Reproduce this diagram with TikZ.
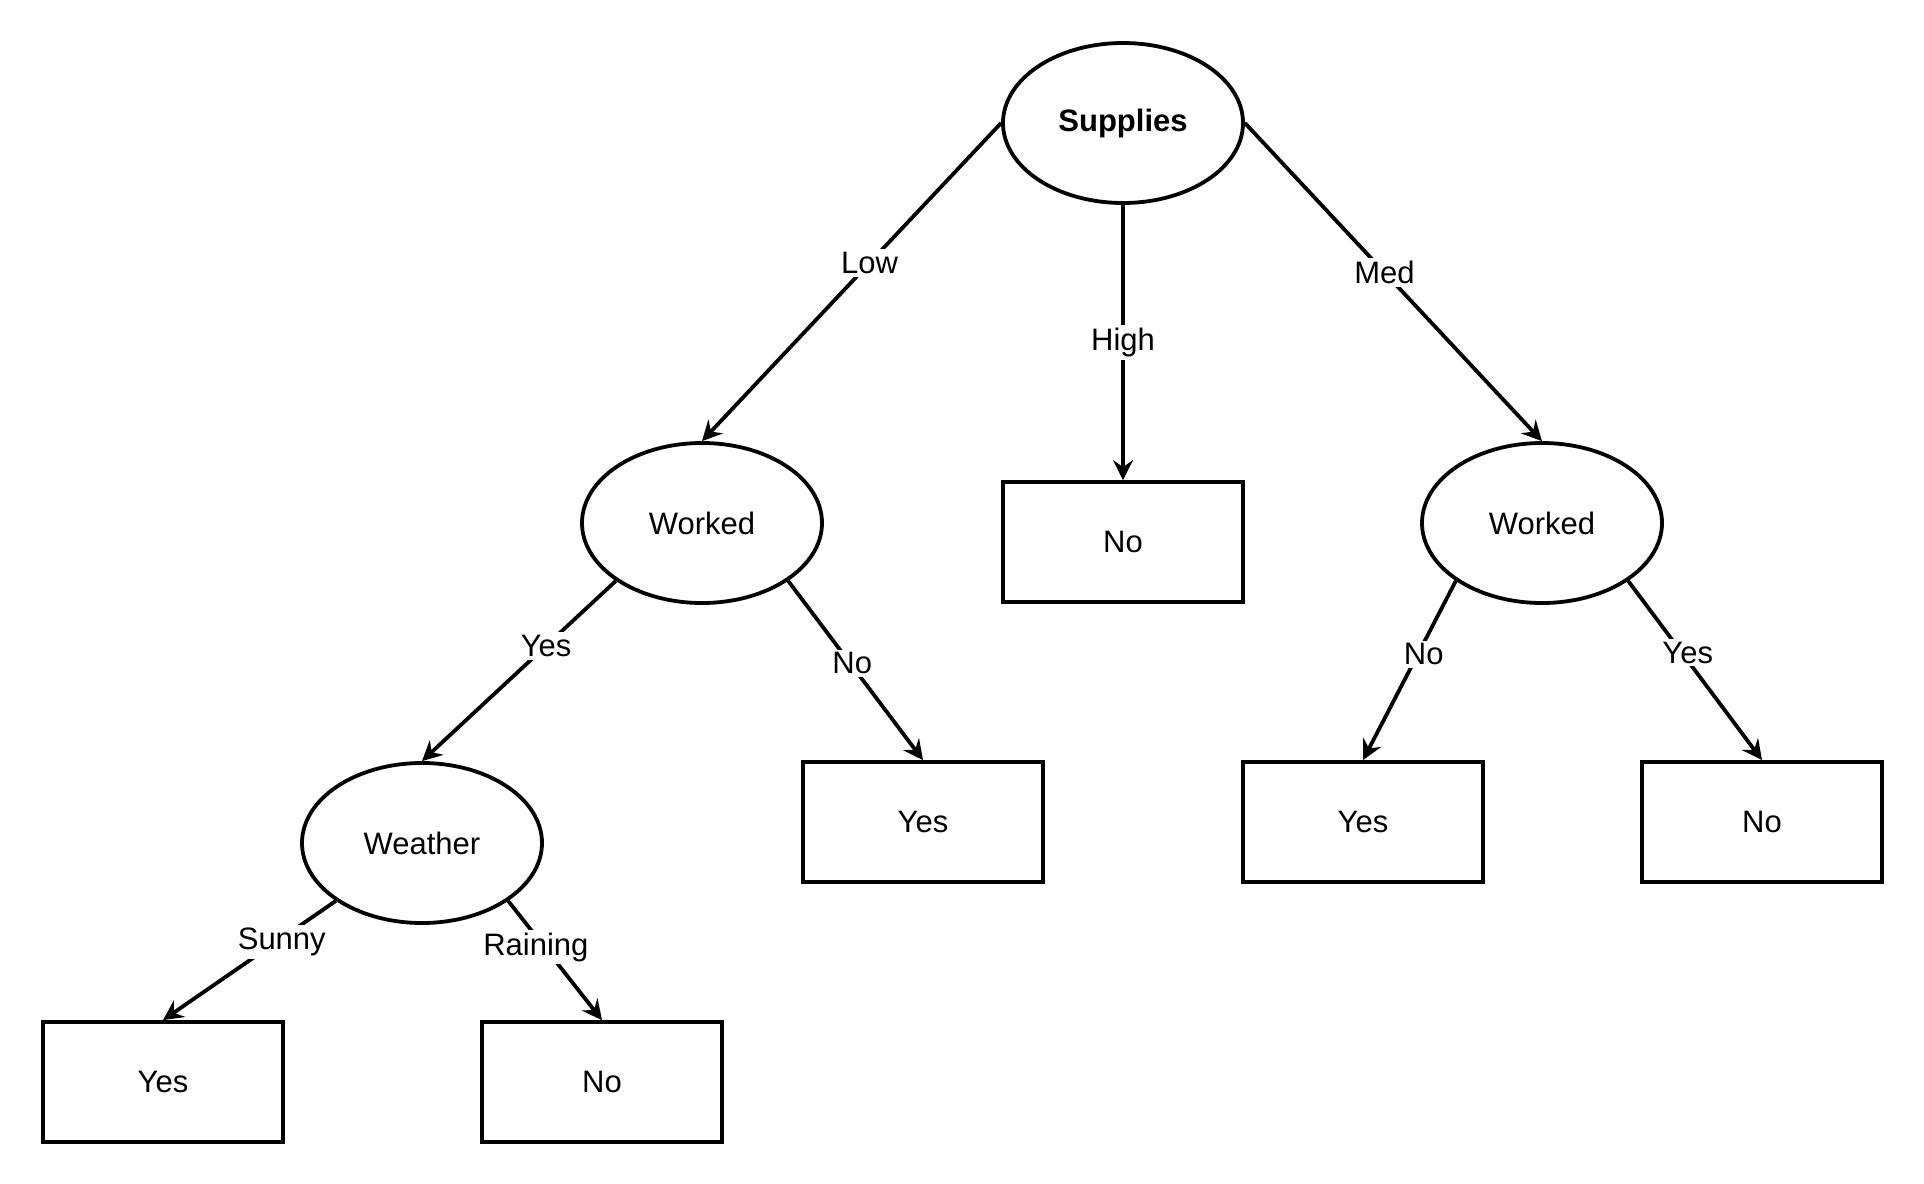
\documentclass[tikz,border=0pt]{standalone}
\usepackage{fontspec}
\setmainfont{Liberation Sans}
\usetikzlibrary{shapes.geometric,arrows.meta}

\begin{document}
\begin{tikzpicture}[x=0.5pt,y=-0.5pt,
  every node/.style={font=\fontsize{15.5}{18}\selectfont},
  decision/.style={ellipse,draw,line width=1.9pt,minimum width=120pt,minimum height=80pt,inner sep=0pt},
  leaf/.style={rectangle,draw,line width=1.9pt,minimum width=120pt,minimum height=60pt,inner sep=0pt},
  branch/.style={line width=1.9pt,-{Stealth[length=10pt,width=10pt,inset=3.5pt]}},
  tag/.style={fill=white,inner sep=1.5pt,pos=#1},
]
\useasboundingbox (0,0) rectangle (1924,1184);

% decision nodes
\node[decision] (sup) at (1123,123) {\textbf{Supplies}};
\node[decision] (wl)  at (702,523)  {Worked};
\node[decision] (wr)  at (1542,523) {Worked};
\node[decision] (wea) at (422,843)  {Weather};

% leaves
\node[leaf] (no1)   at (1123,542) {No};
\node[leaf] (yesm)  at (923,822)  {Yes};
\node[leaf] (yesr)  at (1363,822) {Yes};
\node[leaf] (nor)   at (1762,822) {No};
\node[leaf] (yesbl) at (163,1082) {Yes};
\node[leaf] (nob)   at (602,1082) {No};

% branches
\draw[branch] (sup.west) -- node[tag=0.44]{Low} (wl.north);
\draw[branch] (sup.south) -- node[tag=0.50]{High} (no1.north);
\draw[branch] (sup.east) -- node[tag=0.47]{Med} (wr.north);
\draw[branch] (wl.south west) -- node[tag=0.36]{Yes} (wea.north);
\draw[branch] (wl.south east) -- node[tag=0.46,xshift=1pt]{No} (yesm.north);
\draw[branch] (wr.south west) -- node[tag=0.41,xshift=3pt]{No} (yesr.north);
\draw[branch] (wr.south east) -- node[tag=0.40,xshift=3pt]{Yes} (nor.north);
\draw[branch] (wea.south west) -- node[tag=0.33,xshift=1.5pt,yshift=-1pt]{Sunny} (yesbl.north);
\draw[branch] (wea.south east) -- node[tag=0.37,xshift=-3.5pt,yshift=-1pt]{Raining} (nob.north);
\end{tikzpicture}
\end{document}
